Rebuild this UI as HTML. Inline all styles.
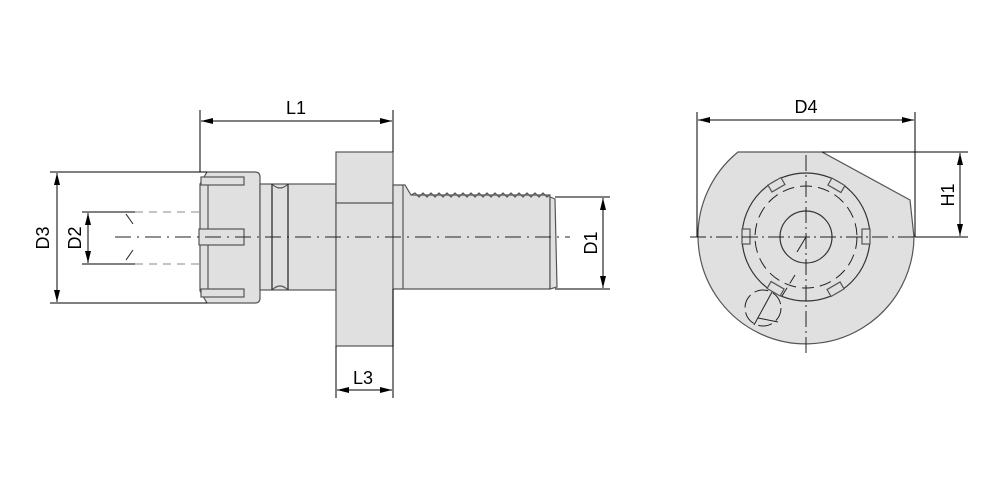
<!DOCTYPE html>
<html><head><style>html,body{margin:0;padding:0;background:#fff}svg{display:block}</style></head><body>
<svg width="1000" height="500" viewBox="0 0 1000 500" xmlns="http://www.w3.org/2000/svg" font-family="Liberation Sans, sans-serif">
<defs>
<marker id="a" viewBox="0 0 12 6" refX="12" refY="3" markerWidth="12" markerHeight="6" orient="auto-start-reverse" markerUnits="userSpaceOnUse"><path d="M0,0L12,3L0,6z" fill="#000"/></marker>
</defs>
<g stroke="#555" stroke-width="1.2" fill="#e0e0e0">
<path d="M207,172 L255,172 Q260,172 260,177 L260,298 Q260,303 255,303 L207,303 L200,291 L200,184 Z"/>
<line x1="208" y1="177" x2="208" y2="297"/>
<rect x="201" y="177" width="43" height="8"/>
<rect x="199" y="229" width="45" height="16"/>
<rect x="201" y="289" width="43" height="8"/>
<rect x="260" y="184" width="76" height="106"/>
<path d="M272,184 Q280,192 288,184 M272,290 Q280,282 288,290" fill="none"/>
<line x1="272" y1="184" x2="272" y2="290" stroke="#222"/>
<line x1="288" y1="184" x2="288" y2="290" stroke="#222"/>
<rect x="336" y="152" width="57" height="194"/>
<line x1="336" y1="203" x2="393" y2="203"/>
<path d="M393,185 L405,185 L411,195 L550,195 L550,289 L393,289 Z"/>
<polyline fill="none" points="411,195 415,193 419,197 423,193 427,197 431,193 435,197 439,193 443,197 447,193 451,197 455,193 459,197 463,193 467,197 471,193 475,197 479,193 483,197 487,193 491,197 495,193 499,197 503,193 507,197 511,193 515,197 519,193 523,197 527,193 531,197 535,193 539,197 543,193 547,197 550,195"/>
<line x1="403" y1="185" x2="403" y2="289"/>
<path d="M550,197 L555,199 L557,287 L550,289 Z"/>
<path d="M738,152 L822,152 L910,200 L914,237 A108,108 0 1 1 738,152 Z"/>
<circle cx="806" cy="237" r="64" fill="none" stroke="#333"/>
<circle cx="806" cy="237" r="26" fill="none" stroke="#333"/>
<rect x="862" y="229" width="8" height="15"/>
<rect x="742" y="229" width="8" height="15"/>
<g transform="rotate(-60 806 237)"><rect x="862" y="230" width="8" height="15"/></g>
<g transform="rotate(60 806 237)"><rect x="862" y="230" width="8" height="15"/></g>
<g transform="rotate(-120 806 237)"><rect x="862" y="230" width="8" height="15"/></g>
<g transform="rotate(120 806 237)"><rect x="862" y="230" width="8" height="15"/></g>
</g>
<g stroke="#222" stroke-width="1" fill="none">
<circle cx="806" cy="237" r="51" stroke-dasharray="12,6"/>
<circle cx="763" cy="308" r="18" stroke-dasharray="14,5"/>
<line x1="754" y1="325" x2="772" y2="292"/>
<line x1="758" y1="318" x2="778" y2="322"/>
<line x1="806" y1="237" x2="797" y2="252"/>
<line x1="795" y1="275" x2="782" y2="296" stroke-dasharray="10,5"/>
<line x1="690" y1="237" x2="925" y2="237" stroke-dasharray="16,4,2,4"/>
<line x1="806" y1="155" x2="806" y2="355" stroke-dasharray="16,4,2,4"/>
<line x1="115" y1="237" x2="570" y2="237" stroke-dasharray="16,6,2,6"/>
<path d="M135,212 H200 M135,264 H200" stroke="#888" stroke-dasharray="8,6"/>
<path d="M126,214 L133,224 M133,250 L126,260" />
</g>
<g stroke="#000" stroke-width="1" fill="none">
<line x1="200" y1="110" x2="200" y2="172"/><line x1="393" y1="110" x2="393" y2="152"/>
<line x1="201" y1="121" x2="392" y2="121" marker-start="url(#a)" marker-end="url(#a)"/>
<line x1="50" y1="172" x2="207" y2="172"/><line x1="50" y1="303" x2="207" y2="303"/>
<line x1="57" y1="173" x2="57" y2="302" marker-start="url(#a)" marker-end="url(#a)"/>
<line x1="82" y1="212" x2="135" y2="212"/><line x1="82" y1="264" x2="135" y2="264"/>
<line x1="88" y1="213" x2="88" y2="263" marker-start="url(#a)" marker-end="url(#a)"/>
<line x1="336" y1="346" x2="336" y2="398"/><line x1="393" y1="289" x2="393" y2="398"/>
<line x1="337" y1="390" x2="392" y2="390" marker-start="url(#a)" marker-end="url(#a)"/>
<line x1="555" y1="197" x2="610" y2="197"/><line x1="555" y1="289" x2="610" y2="289"/>
<line x1="603" y1="198" x2="603" y2="288" marker-start="url(#a)" marker-end="url(#a)"/>
<line x1="697" y1="112" x2="697" y2="237"/><line x1="915" y1="112" x2="915" y2="237"/>
<line x1="698" y1="120" x2="914" y2="120" marker-start="url(#a)" marker-end="url(#a)"/>
<line x1="822" y1="152" x2="968" y2="152"/><line x1="915" y1="237" x2="968" y2="237"/>
<line x1="960" y1="153" x2="960" y2="236" marker-start="url(#a)" marker-end="url(#a)"/>
</g>
<g font-size="18" fill="#000" text-anchor="middle">
<text x="296" y="114">L1</text>
<text x="806" y="113">D4</text>
<text x="363" y="384">L3</text>
<text transform="translate(49,238) rotate(-90)">D3</text>
<text transform="translate(81,238) rotate(-90)">D2</text>
<text transform="translate(597,243) rotate(-90)">D1</text>
<text transform="translate(954,195) rotate(-90)">H1</text>
</g>
</svg>
</body></html>
